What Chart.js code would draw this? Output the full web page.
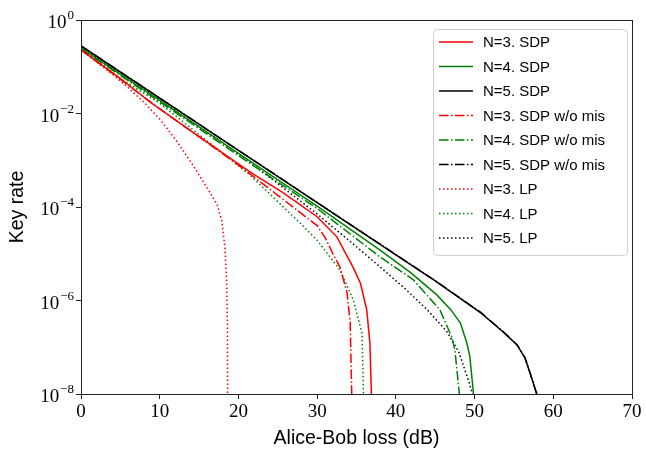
<!DOCTYPE html>
<html>
<head>
<meta charset="utf-8">
<script src="https://cdn.jsdelivr.net/npm/chart.js@4.4.0/dist/chart.umd.min.js"></script>
<style>
html, body { margin: 0; padding: 0; background: #fff; }
#caixa { width: 646px; height: 450px; }
</style>
</head>
<body>
<div id="caixa"><canvas id="graficoTaxa"></canvas></div>
<script>
// valores (perda em dB, taxa de chave)
var lossN3sdp = [0, 5, 8.8, 14, 21.5, 25.7, 30, 32.5, 34.6, 35.5, 36.3, 36.7, 36.9];
var rateN3sdp = [0.229, 5.6e-2, 1.74e-2, 4.2e-3, 5.6e-4, 2.0e-4, 6.2e-5, 2.3e-5, 5.0e-6, 2.34e-6, 6.3e-7, 1.26e-7, 8.9e-9];

var lossN4sdp = [0, 10, 20, 30, 38, 42, 45.2, 47, 48.2, 49, 49.4, 49.9];
var rateN4sdp = [0.251, 1.9e-2, 1.41e-3, 1.05e-4, 1.2e-5, 3.8e-6, 1.32e-6, 6.3e-7, 3.3e-7, 1.26e-7, 6.3e-8, 8.9e-9];

var lossN5sdp = [0, 10, 20, 30, 40, 45, 50.7, 53.6, 55.4, 56.4, 57.05, 57.9, 58.1];
var rateN5sdp = [0.278, 2.12e-2, 1.62e-3, 1.24e-4, 9.5e-6, 2.63e-6, 5.6e-7, 2.14e-7, 1.12e-7, 5.9e-8, 2.8e-8, 1.0e-8, 7.9e-9];

var lossN3mis = [0, 10, 20, 25, 30, 31, 32, 32.9, 33.8, 34.2, 34.4];
var rateN3mis = [0.229, 1.26e-2, 7.9e-4, 1.78e-4, 4.0e-5, 2.24e-5, 1.0e-5, 5.2e-6, 1.45e-6, 3.3e-7, 8.9e-9];

var lossN4mis = [0, 10, 20, 30, 38, 42.2, 45.6, 47.1, 47.5, 48.1];
var rateN4mis = [0.24, 1.78e-2, 1.26e-3, 9.3e-5, 8.5e-6, 2.8e-6, 6.3e-7, 1.66e-7, 8.7e-8, 8.9e-9];

var lossN5mis = [0, 10, 20, 30, 40, 45, 50.7, 53.6, 55.4, 56.4, 57.05, 57.9, 58.1];
var rateN5mis = [0.28, 2.14e-2, 1.63e-3, 1.25e-4, 9.6e-6, 2.65e-6, 5.7e-7, 2.18e-7, 1.13e-7, 6.0e-8, 2.8e-8, 1.0e-8, 7.9e-9];

var lossN3lp = [0, 2, 4, 6, 8, 10, 12, 14, 15.5, 16.5, 17.3, 17.9, 18.3, 18.5, 18.6, 18.62];
var rateN3lp = [0.229, 0.126, 6.9e-2, 3.55e-2, 1.74e-2, 7.6e-3, 2.8e-3, 8.9e-4, 3.55e-4, 1.9e-4, 1.12e-4, 5.0e-5, 1.26e-5, 2.5e-6, 3.2e-7, 7.9e-9];

var lossN4lp = [0, 5, 10, 15, 21.5, 25.7, 27.8, 30, 32.9, 34.6, 35.7, 35.9];
var rateN4lp = [0.24, 5.6e-2, 1.66e-2, 3.55e-3, 4.8e-4, 1.0e-4, 4.6e-5, 1.95e-5, 4.5e-6, 1.02e-6, 2.0e-7, 8.9e-9];

var lossN5lp = [0, 10, 20, 25, 30, 35, 38, 41, 44, 46.5, 48, 49.4, 49.9];
var rateN5lp = [0.263, 1.95e-2, 1.38e-3, 3.16e-4, 7.1e-5, 1.41e-5, 5.2e-6, 1.9e-6, 6.3e-7, 2.14e-7, 7.9e-8, 1.58e-8, 7.9e-9];

var yTicks = [1e-8, 1e-6, 1e-4, 1e-2, 1];
var yExpoentes = ['\u22128', '\u22126', '\u22124', '\u22122', '0'];

var cheio = [];
var tracoPonto = [9.6, 2.4, 1.5, 2.4];
var pontilhado = [1.5, 2.5];

function pontos(loss, rate){
    return loss.map(function(l, i){ return {x: l, y: rate[i]}; });
}

function serie(label, loss, rate, cor, dash){
    return {
        label: label,
        data: pontos(loss, rate),
        borderColor: cor,
        backgroundColor: cor,
        borderWidth: 1.5,
        borderDash: dash,
        pointRadius: 0,
        tension: 0,
        fill: false
    };
}

// caixa da legenda, desenhada por cima
var legendaCaixa = {
    id: 'legendaCaixa',
    afterDraw: function(chart){
        var ctx = chart.ctx;
        var area = chart.chartArea;
        var x0 = area.right - 199, y0 = area.top + 9, w = 194, h = 226;
        ctx.save();
        ctx.beginPath();
        ctx.roundRect(x0 + 0.5, y0 + 0.5, w, h, 4);
        ctx.fillStyle = 'rgba(255,255,255,0.8)';
        ctx.fill();
        ctx.strokeStyle = '#d0d0d0';
        ctx.lineWidth = 1;
        ctx.stroke();
        chart.data.datasets.forEach(function(ds, i){
            var y = y0 + 13 + i * 24.5;
            ctx.beginPath();
            ctx.setLineDash(ds.borderDash);
            ctx.strokeStyle = ds.borderColor;
            ctx.lineWidth = 1.5;
            ctx.moveTo(x0 + 6, y);
            ctx.lineTo(x0 + 40, y);
            ctx.stroke();
            ctx.setLineDash([]);
            ctx.fillStyle = '#000';
            ctx.font = '15px "Liberation Sans"';
            ctx.textAlign = 'left';
            ctx.textBaseline = 'middle';
            ctx.fillText(ds.label, x0 + 50, y + 1);
        });
        ctx.restore();
    }
};

// moldura e rotulos 10^n do eixo y
var moldura = {
    id: 'moldura',
    afterDraw: function(chart){
        var ctx = chart.ctx;
        var a = chart.chartArea;
        var sy = chart.scales.y;
        ctx.save();
        ctx.strokeStyle = '#222';
        ctx.lineWidth = 1;
        ctx.strokeRect(Math.round(a.left) + 0.5, Math.round(a.top) + 0.5,
            Math.round(a.right - a.left), Math.round(a.bottom - a.top));
        var R = a.left - 7;
        yTicks.forEach(function(v, i){
            var py = sy.getPixelForValue(v);
            ctx.font = '13px "Liberation Serif"';
            var ew = ctx.measureText(yExpoentes[i]).width;
            ctx.textAlign = 'left';
            ctx.textBaseline = 'alphabetic';
            ctx.fillStyle = '#000';
            ctx.fillText(yExpoentes[i], R - ew, py - 1);
            ctx.font = '19px "Liberation Serif"';
            var bw = ctx.measureText('10').width;
            ctx.fillText('10', R - ew - bw - 1, py + 8);
        });
        ctx.restore();
    }
};

const ctx = document.getElementById('graficoTaxa');

new Chart(ctx, {
    type: 'line',
    data: {
        datasets: [
            serie('N=3. SDP', lossN3sdp, rateN3sdp, '#ff0000', cheio),
            serie('N=4. SDP', lossN4sdp, rateN4sdp, '#008000', cheio),
            serie('N=5. SDP', lossN5sdp, rateN5sdp, '#000000', cheio),
            serie('N=3. SDP w/o mis', lossN3mis, rateN3mis, '#ff0000', tracoPonto),
            serie('N=4. SDP w/o mis', lossN4mis, rateN4mis, '#008000', tracoPonto),
            serie('N=5. SDP w/o mis', lossN5mis, rateN5mis, '#000000', tracoPonto),
            serie('N=3. LP', lossN3lp, rateN3lp, '#ff0000', pontilhado),
            serie('N=4. LP', lossN4lp, rateN4lp, '#008000', pontilhado),
            serie('N=5. LP', lossN5lp, rateN5lp, '#000000', pontilhado)
        ]
    },
    options: {
        responsive: true,
        maintainAspectRatio: false,
        animation: false,
        devicePixelRatio: 1,
        layout: { padding: { top: 20, right: 14, left: 0, bottom: 0 } },
        plugins: {
            legend: { display: false },
            tooltip: { enabled: false }
        },
        scales: {
            x: {
                type: 'linear',
                min: 0,
                max: 70,
                ticks: {
                    stepSize: 10,
                    color: '#000',
                    padding: 2,
                    font: { family: 'Liberation Serif', size: 19 }
                },
                grid: { drawOnChartArea: false, drawTicks: true, tickLength: 5, color: '#222' },
                border: { display: true, color: '#222' },
                title: {
                    display: true,
                    text: 'Alice-Bob loss (dB)',
                    color: '#000',
                    font: { family: 'Liberation Sans', size: 19.5 },
                    padding: { top: 1, bottom: 0 }
                },
                afterFit: function(s){ s.height = 56; }
            },
            y: {
                type: 'logarithmic',
                min: 1e-8,
                max: 1,
                afterBuildTicks: function(s){
                    s.ticks = yTicks.map(function(v){ return {value: v}; });
                },
                ticks: { display: false },
                grid: { drawOnChartArea: false, drawTicks: true, tickLength: 5, color: '#222' },
                border: { display: true, color: '#222' },
                title: {
                    display: true,
                    text: 'Key rate',
                    color: '#000',
                    font: { family: 'Liberation Sans', size: 19.5 },
                    padding: { top: 6, bottom: 6 }
                },
                afterFit: function(s){ s.width = 81; }
            }
        }
    },
    plugins: [legendaCaixa, moldura]
});
</script>
</body>
</html>
